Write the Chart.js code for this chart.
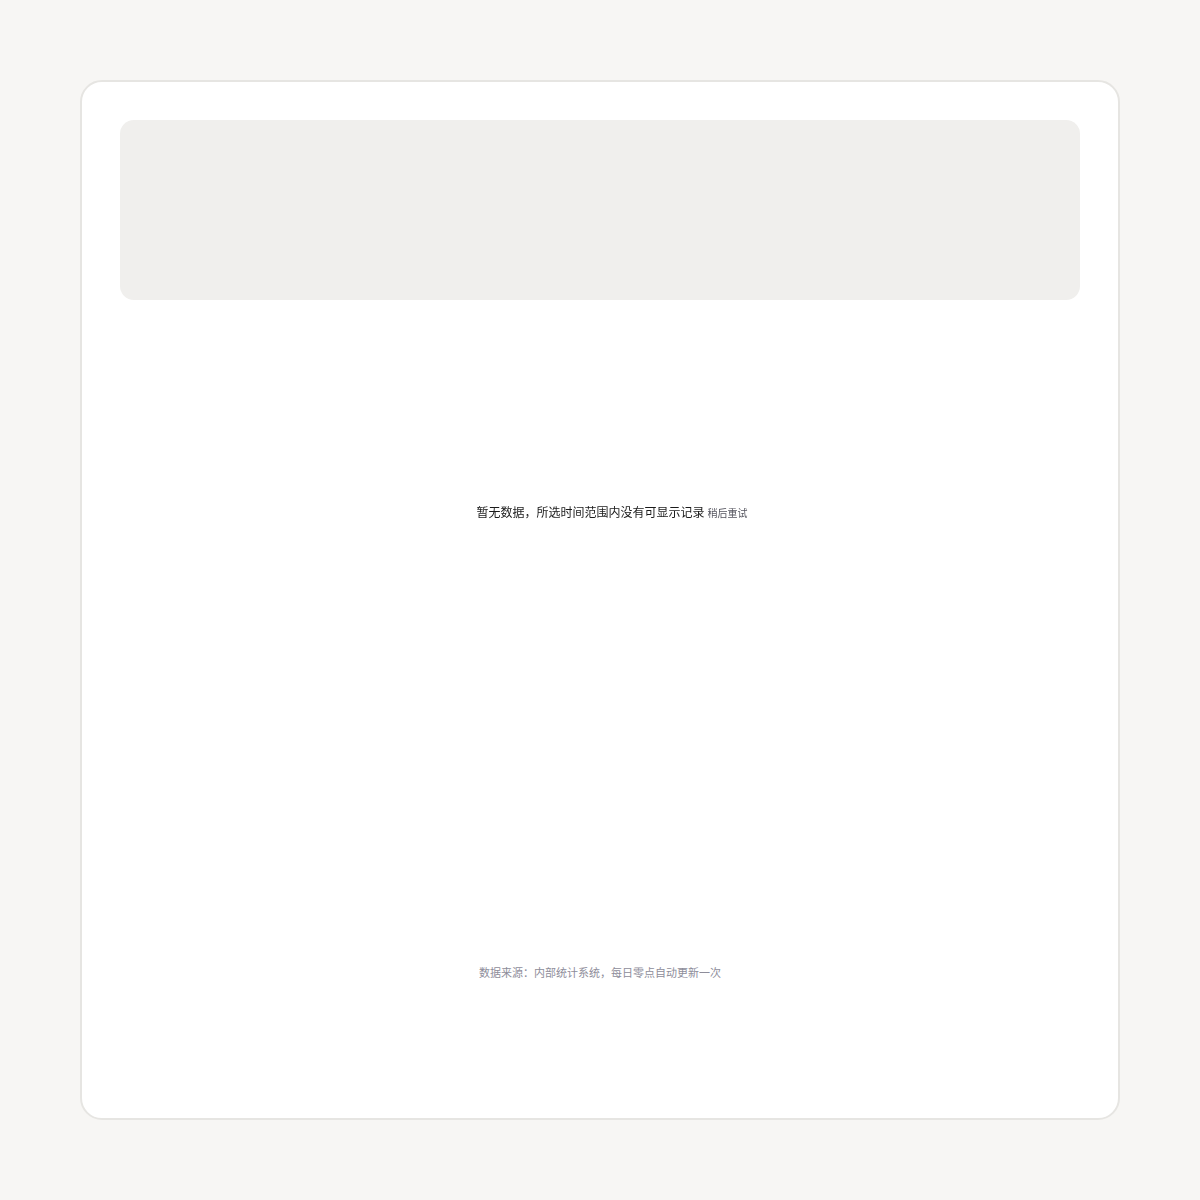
<!DOCTYPE html>
<html lang="zh-CN">
<head>
<meta charset="utf-8">
<title>数据概览</title>
<script src="https://cdn.jsdelivr.net/npm/chart.js@4.4.1/dist/chart.umd.min.js"></script>
<style>
  html, body { margin: 0; padding: 0; }
  body {
    width: 1200px; height: 1200px;
    background: #f7f6f4;
    font-family: "Noto Sans CJK SC", "Noto Sans", sans-serif;
  }
  .card {
    position: absolute; left: 80px; top: 80px;
    width: 1040px; height: 1040px;
    box-sizing: border-box;
    background: #fff;
    border: 2px solid #e6e5e2;
    border-radius: 22px;
    padding: 38px;
  }
  .panel {
    height: 180px;
    background: #f0efed;
    border-radius: 14px;
  }
  .chart-box {
    position: relative;
    margin-top: 24px;
    height: 376px;
  }
  .note {
    position: absolute; left: 0; right: 0; top: 882px;
    text-align: center;
    font-size: 11px;
    color: #8e8d9a;
  }
</style>
</head>
<body>
<div class="card">
  <div class="panel"></div>
  <div class="chart-box"><canvas id="mainChart"></canvas></div>
  <div class="note" id="chartNote"></div>
</div>
<script>
var categories = ["类别一", "类别二", "类别三", "类别四"];
var seriesValues = [0, 0, 0, 0];
var centerMessage = "暂无数据，所选时间范围内没有可显示记录";
var centerUnit = "稍后重试";
var noteText = "数据来源：内部统计系统，每日零点自动更新一次";

document.getElementById("chartNote").textContent = noteText;

// draws the message in the middle when there is nothing to show
var centerText = {
    id: "centerText",
    afterDraw: function(chart) {
        var ctx = chart.ctx,
            area = chart.chartArea,
            cx = (area.left + area.right) / 2 + 12,
            cy = (area.top + area.bottom) / 2;
        ctx.save();
        ctx.textBaseline = "middle";
        ctx.font = "12px 'Noto Sans CJK SC', sans-serif";
        var w1 = ctx.measureText(centerMessage).width;
        ctx.font = "10px 'Noto Sans CJK SC', sans-serif";
        var w2 = ctx.measureText(centerUnit).width;
        var x = cx - (w1 + w2 + 3) / 2;
        ctx.textAlign = "left";
        ctx.font = "12px 'Noto Sans CJK SC', sans-serif";
        ctx.fillStyle = "#1a1a1a";
        ctx.fillText(centerMessage, x, cy);
        ctx.font = "10px 'Noto Sans CJK SC', sans-serif";
        ctx.fillStyle = "#55555f";
        ctx.fillText(centerUnit, x + w1 + 3, cy + 1);
        ctx.restore();
    }
};

var mainChart = new Chart(document.getElementById("mainChart"), {
    type: "doughnut",
    data: {
        labels: categories,
        datasets: [{
            data: seriesValues,
            backgroundColor: ["#4e79a7", "#f28e2b", "#e15759", "#76b7b2"],
            borderWidth: 0
        }]
    },
    options: {
        responsive: true,
        maintainAspectRatio: false,
        animation: false,
        cutout: "72%",
        plugins: {
            legend: { display: false },
            tooltip: { enabled: false }
        }
    },
    plugins: [centerText]
});
</script>
</body>
</html>
